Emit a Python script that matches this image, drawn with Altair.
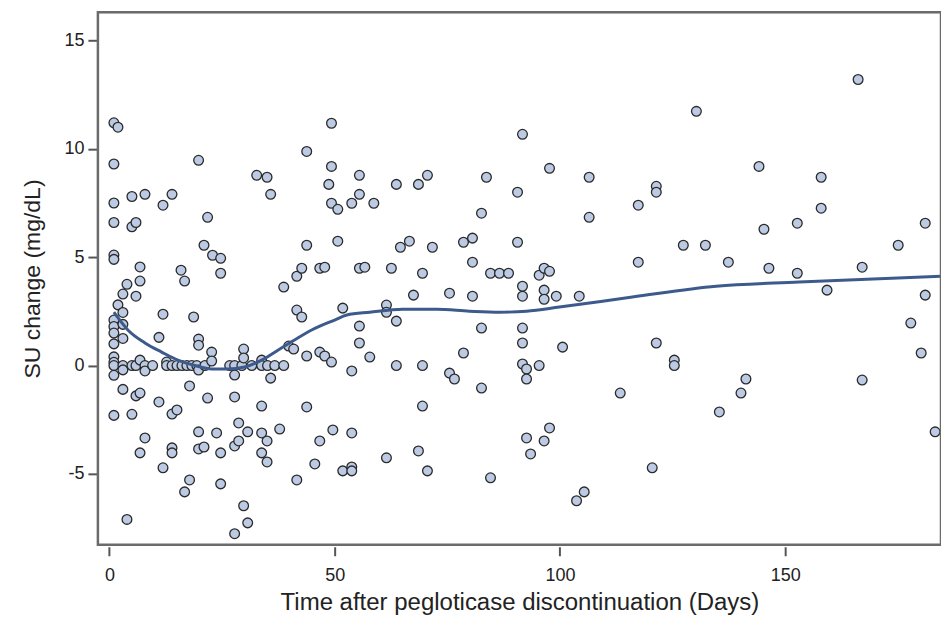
import altair as alt
import pandas as pd

# Scatter: days after pegloticase discontinuation vs SU change (mg/dL)
days = [
    1.0, 1.9, 1.0, 1.0, 1.0, 1.0, 1.0, 1.0, 1.0, 1.0, 1.0, 1.0, 1.0, 1.0, 1.0, 1.0,
    1.9, 3.0, 3.0, 3.0, 3.0, 3.0, 3.0, 3.0, 3.9, 3.9,
    5.0, 5.0, 5.0, 5.0, 5.9, 5.9, 5.9, 5.9,
    6.8, 6.8, 6.8, 6.8, 6.8, 7.9, 7.9, 7.9, 7.9, 9.6,
    11.0, 11.0, 11.9, 11.9, 11.9, 12.7, 12.7,
    13.9, 13.9, 13.9, 13.9, 13.9, 15.0, 15.0, 15.9, 16.1, 16.7, 16.7, 17.2,
    17.8, 17.8, 18.3, 18.7, 19.4,
    19.8, 19.8, 19.8, 19.8, 19.8, 19.8, 21.0, 21.0, 21.2, 21.8, 21.8,
    22.7, 22.7, 22.9, 23.8, 24.7, 24.7, 24.7, 24.7, 26.7,
    27.8, 27.8, 27.8, 27.8, 27.8, 28.7, 28.7, 29.4, 29.8, 29.8, 29.8,
    30.7, 30.7, 31.6, 32.7, 33.8, 33.8, 33.8, 33.8, 33.8,
    35.0, 35.0, 35.0, 35.1, 35.8, 35.8, 36.7, 37.8, 38.7, 38.7,
    39.8, 40.9, 41.6, 41.6, 41.6, 42.7, 42.7,
    43.8, 43.8, 43.8, 43.8, 45.6, 46.7, 46.7, 46.7, 47.8, 47.8, 48.7,
    49.3, 49.3, 49.3, 49.3, 49.6, 50.7, 50.7, 51.8, 51.8,
    53.8, 53.8, 53.8, 53.8, 53.8, 55.5, 55.5, 55.5, 55.5, 55.5, 56.7, 57.8, 58.7,
    61.5, 61.5, 61.5, 62.6, 63.7, 63.7, 63.7, 64.6, 66.6, 67.5, 68.6, 68.6,
    69.5, 69.5, 69.5, 70.6, 70.6, 71.7, 75.5, 75.5, 76.6, 78.6, 78.6,
    80.6, 80.6, 80.6, 82.6, 82.6, 82.6, 83.7, 84.6, 84.6, 86.6, 88.6,
    90.6, 90.6, 91.7, 91.7, 91.7, 91.7, 91.7, 91.7, 92.6, 92.6, 92.6, 93.5,
    95.4, 95.4, 96.5, 96.5, 96.5, 96.5, 97.7, 97.7, 97.7, 99.2, 100.6,
    103.7, 104.3, 105.4, 106.5, 106.5, 113.4, 117.4, 117.4, 120.5,
    121.4, 121.4, 121.4, 125.4, 125.4, 127.4, 130.3, 132.3, 135.4, 137.4,
    140.2, 141.3, 144.2, 145.3, 146.4, 152.7, 152.7, 158.0, 158.0, 159.3,
    166.2, 167.1, 167.1, 175.1, 177.9, 180.2, 181.1, 181.1, 183.3,
]
su_change = [
    11.2, 11.0, 9.3, 7.5, 6.6, 5.1, 4.9, 2.1, 1.8, 1.5, 1.0, 0.4, 0.15, 0.0, -0.45, -2.3,
    2.8, 3.3, 2.45, 1.9, 1.25, 0.0, -0.2, -1.1, 3.75, -7.1,
    7.8, 6.4, 0.0, -2.25, 6.6, 3.2, 0.0, -1.4,
    4.55, 3.9, 0.25, -1.27, -4.03, 7.9, 0.0, -0.25, -3.34, 0.0,
    1.3, -1.68, 7.4, 2.37, -4.72, 0.16, 0.0,
    7.9, 0.0, -2.24, -3.8, -4.03, 0.0, -2.05, 4.4, 0.0, 3.9, -5.83, 0.0,
    -0.94, -5.28, 0.0, 2.24, 0.0,
    9.47, 1.22, 0.94, -0.21, -3.06, -3.85, 5.55, -3.76, 0.0, 6.84, -1.5,
    0.62, 0.21, 5.09, -3.11, 4.95, 4.26, -4.03, -5.46, 0.0,
    0.0, -0.44, -1.45, -3.71, -7.76, -2.65, -3.48, 0.0, 0.76, 0.35, -6.47,
    -3.06, -7.26, 0.0, 8.78, 0.25, 0.0, -1.87, -3.11, -4.03,
    8.69, -3.48, -4.45, 0.0, 7.9, -0.58, 0.0, -2.93, 3.62, 0.0,
    0.9, 0.76, 4.12, 2.56, -5.28, 4.49, 2.24,
    9.88, 5.55, 0.44, -1.91, -4.54, 4.49, 0.62, -3.48, 4.54, 0.44, 8.36,
    11.18, 9.19, 7.49, 0.16, -2.97, 7.21, 5.74, 2.65, -4.86,
    7.49, -0.25, -3.11, -4.68, -4.86, 8.78, 7.9, 4.49, 1.82, 1.04, 4.54, 0.39, 7.49,
    2.79, 2.46, -4.26, 4.49, 8.36, 2.05, 0.0, 5.46, 5.74, 3.25, 8.36, -3.94,
    4.26, 0.0, -1.87, 8.78, -4.86, 5.46, 3.34, -0.35, -0.62, 5.69, 0.58,
    5.88, 4.77, 3.2, 7.03, 1.73, -1.04, 8.69, 4.26, -5.18, 4.26, 4.26,
    8.0, 5.69, 10.67, 3.66, 3.2, 1.73, 1.04, 0.07, -0.16, -0.62, -3.34, -4.08,
    4.17, 0.0, 4.49, 3.48, 3.06, -3.48, 9.1, 4.35, -2.88, 3.2, 0.85,
    -6.24, 3.2, -5.83, 8.69, 6.84, -1.27, 7.4, 4.77, -4.72,
    8.27, 8.0, 1.04, 0.25, 0.0, 5.55, 11.73, 5.55, -2.14, 4.77,
    -1.27, -0.62, 9.19, 6.29, 4.49, 6.57, 4.26, 8.69, 7.26, 3.48,
    13.2, 4.54, -0.67, 5.55, 1.96, 0.58, 6.57, 3.25, -3.06,
]

# Smoothed (loess-like) trend
curve_days = [1.0, 4.1, 7.9, 11.6, 15.2, 19.0, 22.7, 26.3, 30.0, 33.8, 37.4, 41.1,
              44.9, 50.0, 52.7, 57.8, 65.1, 72.6, 79.9, 86.6, 92.6, 99.9, 116.1,
              134.7, 153.1, 184.6]
curve_su = [2.46, 1.64, 1.04, 0.62, 0.25, 0.0, -0.16, -0.16, -0.07, 0.25, 0.71, 1.18,
            1.64, 2.1, 2.33, 2.46, 2.6, 2.6, 2.51, 2.46, 2.51, 2.7, 3.16,
            3.66, 3.85, 4.12]

x_ticks = [0, 50, 100, 150]
y_ticks = [-5, 0, 5, 10, 15]

pts = pd.DataFrame({"day": days, "su": su_change})
crv = pd.DataFrame({"day": curve_days, "su": curve_su})

FONT = "Liberation Sans"
W, H = 844, 533
xscale = alt.Scale(domain=[-2.55, 184.6], nice=False, zero=False)
yscale = alt.Scale(domain=[-8.27, 16.3], nice=False, zero=False)

xaxis = alt.Axis(
    values=x_ticks, domain=False, grid=False, tickSize=9, tickWidth=2,
    tickColor="#555555", offset=2, labelFontSize=18, labelColor="#222222",
    labelFont=FONT, labelPadding=11, labelExpr="datum.value + ''",
    title="Time after pegloticase discontinuation (Days)",
    titleFont=FONT, titleFontSize=24, titleFontWeight="normal", titleColor="#222222",
    titlePadding=6,
)
yaxis = alt.Axis(
    values=y_ticks, domain=False, grid=False, tickSize=9, tickWidth=2,
    tickColor="#555555", offset=1, labelFontSize=18, labelColor="#222222",
    labelFont=FONT, labelPadding=4, labelExpr="datum.value + ''",
    title="SU change (mg/dL)",
    titleFont=FONT, titleFontSize=23, titleFontWeight="normal", titleColor="#222222",
    titlePadding=19,
)

points = alt.Chart(pts).mark_point(
    filled=True, fill="#bccbe3", stroke="#2a2a2a", strokeWidth=1.3, size=95, opacity=1
).encode(
    x=alt.X("day:Q", scale=xscale, axis=xaxis),
    y=alt.Y("su:Q", scale=yscale, axis=yaxis),
)

line = alt.Chart(crv).mark_line(
    color="#3d5a8c", strokeWidth=3, interpolate="monotone"
).encode(
    x=alt.X("day:Q", scale=xscale),
    y=alt.Y("su:Q", scale=yscale),
)

frame = alt.Chart(pd.DataFrame({"k": [0]})).mark_rect(
    fill=None, fillOpacity=0, stroke="#6b6b6b", strokeWidth=2.5
).encode(
    x=alt.value(0), x2=alt.value(W), y=alt.value(0), y2=alt.value(H)
)

chart = (points + line + frame).properties(
    width=W, height=H,
    autosize=alt.AutoSizeParams(type="none"),
    padding={"left": 90, "top": 4, "right": 0, "bottom": 75},
).configure_view(
    stroke=None, fill="white"
).configure(background="white")

chart.save("out.html", embed_options={"renderer": "svg", "actions": False})
